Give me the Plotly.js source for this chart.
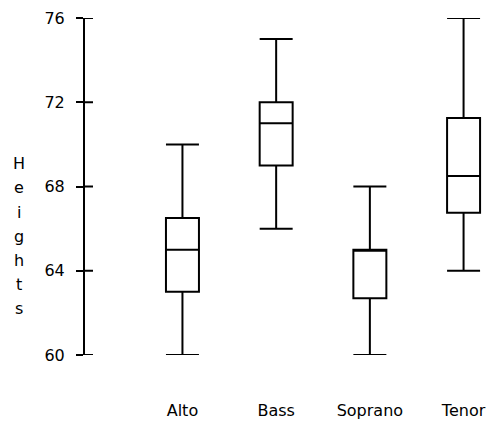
<!DOCTYPE html>
<html>
<head>
<meta charset="utf-8">
<script src="https://cdn.plot.ly/plotly-3.0.1.min.js"></script>
<style>html,body{margin:0;padding:0;background:#fff;}#chart{width:487px;height:422px;}</style>
</head>
<body>
<div id="chart"></div>
<script>
// Data
const categories = ["Alto", "Bass", "Soprano", "Tenor"];
const lowerWhisker = [60, 66, 60, 64];
const q1Values = [63, 69, 62.7, 66.75];
const medianValues = [65, 71, 65, 68.5];
const q3Values = [66.5, 72, 65, 71.25];
const upperWhisker = [70, 75, 68, 76];
const yTickValues = [60, 64, 68, 72, 76];
const yTitle = "Heights";

const FONT = "DejaVu Sans";

const boxTrace = {
  type: "box",
  x: categories,
  q1: q1Values,
  median: medianValues,
  q3: q3Values,
  lowerfence: lowerWhisker,
  upperfence: upperWhisker,
  width: 0.352,
  whiskerwidth: 1,
  boxpoints: false,
  line: {color: "#000", width: 2},
  fillcolor: "rgba(255,255,255,0)",
  hoverinfo: "skip",
  showlegend: false
};

const annotations = yTitle.split("").map((ch, i) => ({
  text: ch,
  xref: "paper", yref: "paper",
  x: -0.163, y: 0.352,
  xanchor: "center", yanchor: "middle",
  yshift: (3 - i) * 24.2,
  showarrow: false,
  font: {family: FONT, size: 16, color: "#000"}
}));

// inner half of the crossing tick marks on the y axis
const innerTicks = yTickValues.map(v => ({
  type: "line",
  xref: "paper", yref: "y",
  x0: 0, x1: 8 / 402, y0: v, y1: v,
  line: {color: "#000", width: 2}
}));

const layout = {
  width: 487, height: 422,
  margin: {l: 85, r: 0, t: 18, b: 67, pad: 0},
  paper_bgcolor: "#fff",
  plot_bgcolor: "#fff",
  showlegend: false,
  font: {family: FONT, size: 16, color: "#000"},
  xaxis: {
    type: "category",
    range: [-1.04, 3.25],
    showline: false,
    showgrid: false,
    zeroline: false,
    ticks: "",
    ticklabelstandoff: 44,
    tickfont: {family: FONT, size: 16, color: "#000"},
    fixedrange: true
  },
  yaxis: {
    range: [60, 76],
    tickmode: "array",
    tickvals: yTickValues,
    ticktext: yTickValues.map(String),
    showline: true,
    linecolor: "#000",
    linewidth: 2,
    ticks: "outside",
    ticklen: 7,
    tickwidth: 2,
    tickcolor: "#000",
    ticklabelstandoff: 8,
    showgrid: false,
    zeroline: false,
    tickfont: {family: FONT, size: 16, color: "#000"},
    fixedrange: true
  },
  shapes: innerTicks,
  annotations: annotations
};

Plotly.newPlot("chart", [boxTrace], layout, {staticPlot: true, displayModeBar: false});
</script>
</body>
</html>
